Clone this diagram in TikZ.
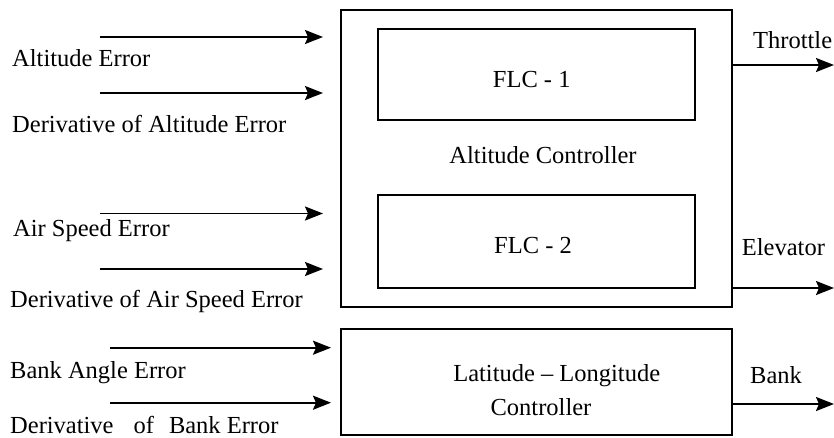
\documentclass[tikz,border=0pt]{standalone}
\usepackage{fontspec}
\setmainfont{Liberation Serif}
\usetikzlibrary{arrows.meta}
\begin{document}
\begin{tikzpicture}[x=1pt,y=-1pt,
  every node/.style={font=\fontsize{24.5}{29}\selectfont},
  box/.style={draw,line width=1.9pt,inner sep=0pt},
  sig/.style={line width=1.9pt,-{Stealth[length=18pt,width=14pt,inset=3pt]}},
  lbl/.style={anchor=base west,inner sep=0pt},
  txt/.style={anchor=base,inner sep=0pt}]
\useasboundingbox (0,0) rectangle (834,437);

% controller blocks
\node[box,minimum width=390.7pt,minimum height=296.7pt] (alt) at (536.3,158.3) {};
\node[box,minimum width=317pt,minimum height=91pt] (flc1) at (536.5,74.5) {};
\node[box,minimum width=317pt,minimum height=93pt] (flc2) at (536.5,241.5) {};
\node[box,minimum width=390.7pt,minimum height=105.7pt] (latlong) at (536.3,382.2) {};

% block captions
\node[txt] (flc1t) at (531.7,87) {FLC - 1};
\node[txt] (altt) at (543,163) {Altitude Controller};
\node[txt] (flc2t) at (533,253) {FLC - 2};
\node[txt] (llt1) at (556.7,381) {Latitude – Longitude};
\node[txt] (llt2) at (541,415) {Controller};

% input signals
\coordinate (in1) at (100,37);
\coordinate (in2) at (100,93);
\coordinate (in3) at (100,213.5);
\coordinate (in4) at (100,269);
\coordinate (in5) at (110,347.7);
\coordinate (in6) at (110,402.7);
\draw[sig,shorten >=17pt] (in1) -- (in1 -| alt.west);
\draw[sig,shorten >=17pt] (in2) -- (in2 -| alt.west);
\draw[sig,shorten >=17pt] (in3) -- (in3 -| alt.west);
\draw[sig,shorten >=17pt] (in4) -- (in4 -| alt.west);
\draw[sig,shorten >=9pt] (in5) -- (in5 -| latlong.west);
\draw[sig,shorten >=9pt] (in6) -- (in6 -| latlong.west);

\node[lbl] (l1) at (12,66) {Altitude Error};
\node[lbl] (l2) at (12,132) {Derivative of Altitude Error};
\node[lbl] (l3) at (13,236) {Air Speed Error};
\node[lbl] (l4) at (10,307) {Derivative of Air Speed Error};
\node[lbl] (l5) at (10,378) {Bank Angle Error};
\node[lbl] (l6) at (10,433) {Derivative\hspace{20pt}of\hspace{15pt}Bank Error};

% output signals
\coordinate (out1) at (834,65);
\coordinate (out2) at (834,288);
\coordinate (out3) at (834,404);
\draw[sig] (out1 -| alt.east) -- (out1);
\draw[sig] (out2 -| alt.east) -- (out2);
\draw[sig] (out3 -| latlong.east) -- (out3);

\node[lbl] (o1) at (753,48) {Throttle};
\node[lbl] (o2) at (741.7,255) {Elevator};
\node[lbl] (o3) at (750,383) {Bank};
\end{tikzpicture}
\end{document}
